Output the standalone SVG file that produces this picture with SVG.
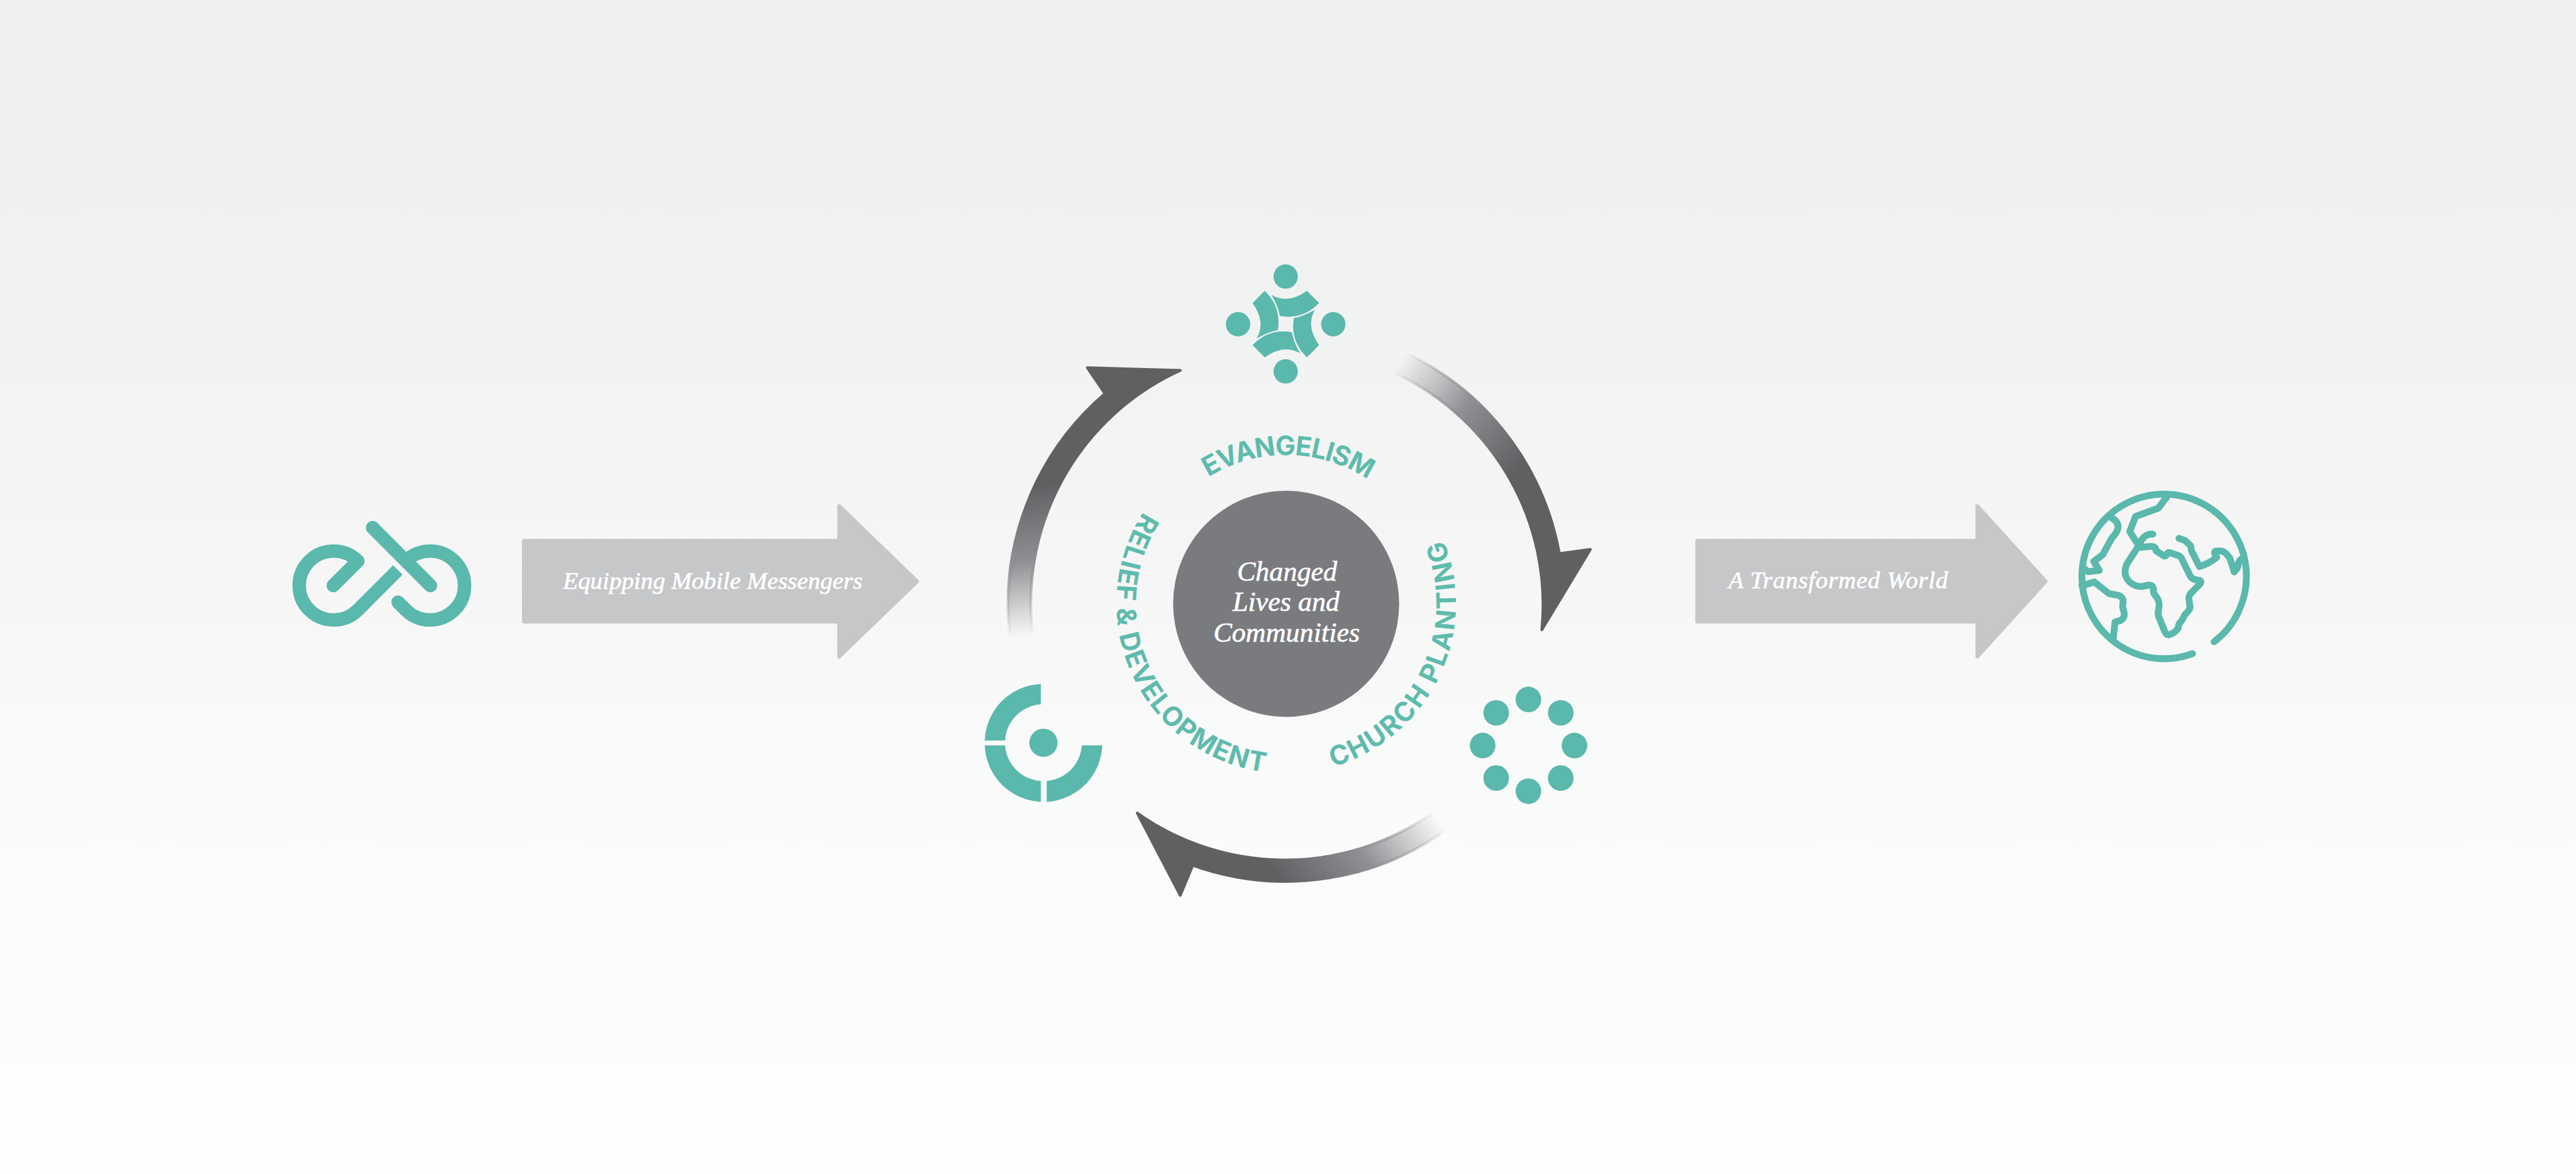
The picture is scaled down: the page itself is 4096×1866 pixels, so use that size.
<svg xmlns="http://www.w3.org/2000/svg" xmlns:xlink="http://www.w3.org/1999/xlink" width="4096" height="1866" viewBox="0 0 4096 1866">
<style>
.teal{fill:#5ab8ac}
.line{fill:none;stroke:#5ab8ac;stroke-linecap:round;stroke-linejoin:round}
.band{fill:#c6c7c9;stroke:#c6c7c9;stroke-width:8;stroke-linejoin:round}
.lab{font-family:"Liberation Serif",serif;font-style:italic;fill:#fff;stroke:#fff;stroke-width:.9}
.ring{font-family:Inter,"Liberation Sans",sans-serif;font-weight:700;font-size:58px;fill:#5ebbad}
.arc{stroke-width:6;stroke-linejoin:round}
</style>
<defs>
<linearGradient id="bg" x1="0" y1="0" x2="0" y2="1">
<stop offset="0" stop-color="#eeefef"/><stop offset=".27" stop-color="#f1f2f2"/><stop offset=".5" stop-color="#f6f6f6"/><stop offset=".63" stop-color="#f9fafa"/><stop offset="1" stop-color="#fefefe"/>
</linearGradient>
<linearGradient id="g1" gradientUnits="userSpaceOnUse" x1="3025" y1="785" x2="3300" y2="990">
<stop offset="0" stop-color="#9a9b9e" stop-opacity="0"/><stop offset=".5" stop-color="#8f9093"/><stop offset="1" stop-color="#5f6062"/>
</linearGradient>
<linearGradient id="g2" gradientUnits="userSpaceOnUse" x1="3115" y1="1775" x2="2826" y2="1985">
<stop offset="0" stop-color="#9a9b9e" stop-opacity="0"/><stop offset=".5" stop-color="#8f9093"/><stop offset="1" stop-color="#5f6062"/>
</linearGradient>
<linearGradient id="g3" gradientUnits="userSpaceOnUse" x1="2215" y1="1375" x2="2170" y2="1060">
<stop offset="0" stop-color="#9a9b9e" stop-opacity="0"/><stop offset=".5" stop-color="#8f9093"/><stop offset="1" stop-color="#5f6062"/>
</linearGradient>
<path id="pE" d="M2506,1141A321 321 0 0 1 3062,1148"/>
<path id="pC" d="M2745.6,1670.2A367 367 0 0 0 3044.7,1048.7"/>
<path id="pR" d="M2550.5,1020.2A367 367 0 0 0 2840,1667.4"/>
<path id="seg" d="M-31,-63Q5,-42.5 45.5,-72L72,-45.7Q37,-9 -13,-17.4Q-16,-37 -31,-63Z"/>
</defs>
<g transform="scale(0.7351)">
<rect id="background" width="5572" height="2539" fill="url(#bg)"/>
<g id="connectors">
<path class="arc" fill="url(#g1)" stroke="url(#g1)" d="M3016.5,752A600 600 0 0 1 3373,1197L3440,1188L3335,1362A552 552 0 0 0 2997,798Z"/>
<path class="arc" fill="url(#g2)" stroke="url(#g2)" d="M3147,1781A600 600 0 0 1 2580,1871L2553,1936L2460,1758A552 552 0 0 0 3118,1743Z"/>
<path class="arc" fill="url(#g3)" stroke="url(#g3)" d="M2186,1387A600 600 0 0 1 2390,851L2352,795L2553,801A552 552 0 0 0 2236,1387Z"/>
<path class="band" d="M1133,1169H1815V1094L1984,1257L1815,1420V1344H1133Z"/>
<path class="band" d="M3671,1169H4277V1094L4425,1257L4277,1420V1344H3671Z"/>
</g>
<g id="node-logo">
<path class="line" stroke-width="29" d="M721,1266L774,1213A74.5 74.5 0 1 0 774,1319"/>
<path class="line" stroke-width="29" style="stroke-linecap:butt" d="M774,1319L860.5,1232.5"/>
<path class="line" stroke-width="29" d="M806,1141L931,1266"/>
<path class="line" stroke-width="29" d="M861,1302L878,1319A74.5 74.5 0 1 0 878,1213"/>
</g>
<g id="node-equipping"><text class="lab" x="1218" y="1273" font-size="53">Equipping Mobile Messengers</text></g>
<g id="node-evangelism-icon" class="teal">
<circle cx="2781" cy="598" r="26.3"/><circle cx="2781" cy="803" r="26.3"/><circle cx="2678" cy="701" r="26.3"/><circle cx="2884" cy="701" r="26.3"/>
<use xlink:href="#seg" href="#seg" transform="translate(2781.3,700.7)"/>
<use xlink:href="#seg" href="#seg" transform="translate(2781.3,700.7) rotate(90)"/>
<use xlink:href="#seg" href="#seg" transform="translate(2781.3,700.7) rotate(180)"/>
<use xlink:href="#seg" href="#seg" transform="translate(2781.3,700.7) rotate(270)"/>
</g>
<g id="node-church-icon" class="teal">
<circle cx="3306" cy="1512.3" r="27.7"/><circle cx="3376" cy="1541.3" r="27.7"/><circle cx="3405.7" cy="1612" r="27.7"/><circle cx="3376" cy="1682.3" r="27.7"/><circle cx="3306" cy="1710.7" r="27.7"/><circle cx="3236.3" cy="1682.3" r="27.7"/><circle cx="3207" cy="1612" r="27.7"/><circle cx="3236.3" cy="1541.3" r="27.7"/>
</g>
<g id="node-relief-icon" class="teal">
<circle cx="2257" cy="1606" r="30.5"/>
<path d="M2130,1601A127 127 0 0 1 2251.3,1478.9V1523A83 83 0 0 0 2174,1601Z"/>
<path d="M2130,1611.7A127 127 0 0 0 2251.3,1733.7V1688.7A83 83 0 0 1 2174,1611.7Z"/>
<path d="M2264,1733.7A127 127 0 0 0 2384.3,1611.7H2340A83 83 0 0 1 2264,1688.7Z"/>
</g>
<g id="node-center">
<circle cx="2782" cy="1305.5" r="244.5" fill="#7a7b7f"/>
<text class="lab" font-size="60" text-anchor="middle" x="2784" y="1256">Changed</text>
<text class="lab" font-size="60" text-anchor="middle" x="2782" y="1321">Lives and</text>
<text class="lab" font-size="60" text-anchor="middle" x="2783" y="1387">Communities</text>
</g>
<g id="labels">
<text class="ring" text-anchor="middle" letter-spacing="-1.9"><textPath xlink:href="#pE" href="#pE" startOffset="50%">EVANGELISM</textPath></text>
<text class="ring" text-anchor="middle" letter-spacing="3.4"><textPath xlink:href="#pC" href="#pC" startOffset="50%">CHURCH PLANTING</textPath></text>
<text class="ring" text-anchor="middle" letter-spacing="2.1"><textPath xlink:href="#pR" href="#pR" startOffset="50.7%">RELIEF &amp; DEVELOPMENT</textPath></text>
</g>
<g id="node-transformed"><text class="lab" x="3739" y="1272" font-size="53" letter-spacing="1">A Transformed World</text></g>
<g id="node-globe" transform="translate(4440,1020) scale(.3333)">
<g class="line" stroke-width="44">
<path d="M908,1180A534 534 0 1 1 1048,1103"/>
<path d="M740,165L686,236L538,290L500,388L552,470"/>
<path d="M650,405C610,402 580,425 565,470"/>
<path d="M552,490L575,490L640,484Q672,485 670,512L725,548Q740,545 745,528Q755,520 775,530L820,545Q835,552 845,580L880,650Q895,695 925,700L955,705Q970,715 955,730L900,785Q880,805 885,830L892,880Q885,905 860,925L838,965Q815,985 815,1015Q790,1050 755,1058Q735,1060 725,1030L690,945Q680,920 690,880Q698,840 665,800Q650,785 655,760Q650,735 625,735L585,743Q540,750 505,720Q465,685 470,640Q475,600 500,570Z"/>
<path d="M380,298Q425,320 425,360Q420,395 383,432L325,538L267,582L303,640L228,648L195,620"/>
<path d="M190,740L270,715L365,790L430,803Q458,815 458,845Q450,870 460,900Q475,945 440,965L405,975L392,1090"/>
<path d="M820,432L860,447L895,480Q900,495 900,510L952,615Q1010,600 1065,555Q1040,520 1060,515H1100Q1120,520 1150,560L1178,650Q1205,625 1205,600Q1205,575 1235,560"/>
</g>
</g>
</g>
</svg>
